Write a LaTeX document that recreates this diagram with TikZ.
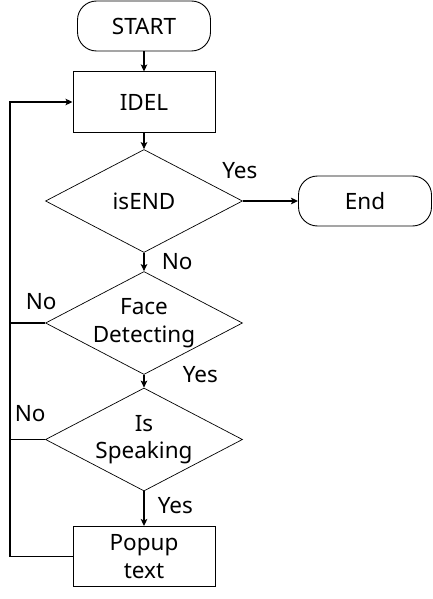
\documentclass[tikz,border=0pt]{standalone}
\usepackage{fontspec}
\setmainfont{Noto Sans}
\usetikzlibrary{shapes.geometric, arrows.meta, positioning}
\tikzstyle{terminal} = [rectangle, rounded corners=19pt, minimum width=133pt, minimum height=50pt, text centered, draw=black, line width=0.9pt]
\tikzstyle{process} = [rectangle, minimum width=142pt, minimum height=60pt, inner sep=2pt, text centered, align=center, draw=black, line width=1pt]
\tikzstyle{decision} = [diamond, aspect=1.9, minimum width=197pt, minimum height=103pt, inner sep=-4pt, align=center, draw=black, line width=0.7pt]
\tikzstyle{arrow} = [line width=1.5pt, ->, >={Stealth[length=7pt,width=6.5pt,inset=1.5pt]}]
\tikzstyle{line} = [line width=1.8pt]
\tikzstyle{lbl} = [inner sep=0pt]

\begin{document}
\begin{tikzpicture}[x=1pt, y=1pt, node distance=76pt, font=\fontsize{22.5}{27.5}\selectfont]
\useasboundingbox (0,0) rectangle (432,-599);

\node (start) [terminal] at (144,-26) {START};
\node (idel)  [process, below of=start] {IDEL};
\node (isend) [decision, below of=idel, yshift=-23pt] {isEND};
\node (face)  [decision, below of=isend, yshift=-46pt] {Face\\Detecting};
\node (speak) [decision, below of=face, yshift=-40.5pt] {Is\\Speaking};
\node (popup) [process, below of=speak, yshift=-41pt] {Popup\\text};
\node (end)   [terminal, right of=isend, xshift=145pt] {End};

% vertical return line on the left
\coordinate (rail) at (10,-300);

% main flow
\draw [arrow] (start) -- (idel);
\draw [arrow] (idel) -- (isend);
\draw [arrow] (isend.east) -- node[lbl, pos=0, xshift=-3pt, yshift=30pt] {Yes} (end.west);
\draw [arrow] (isend.south) -- node[lbl, right=17pt] {No} (face.north);
\draw [arrow] (face.south) -- node[lbl, pos=0, right=38pt] {Yes} (speak.north);
\draw [arrow] (speak.south) -- node[lbl, right=13pt, yshift=3pt] {Yes} (popup.north);

% "No" branches join the return line
\draw [line] (face.west) -- node[lbl, pos=0, xshift=-4pt, yshift=21pt] {No} (face.west -| rail);
\draw [line] (speak.west) -- node[lbl, pos=0, xshift=-15pt, yshift=26pt] {No} (speak.west -| rail);

% back to IDEL
\draw [arrow] (popup.west) -- (popup.west -| rail) |- (idel.west);

\end{tikzpicture}
\end{document}
